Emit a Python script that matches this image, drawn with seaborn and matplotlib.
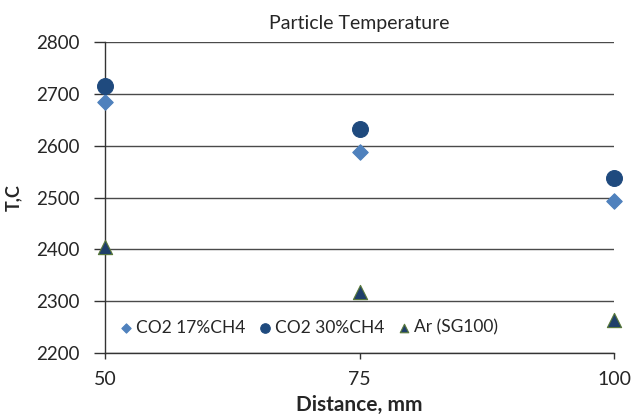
import matplotlib
matplotlib.use("Agg")
import matplotlib.pyplot as plt
import seaborn as sns
import pandas as pd

distance = [50, 75, 100]
co2_17 = [2685, 2588, 2493]
co2_30 = [2715, 2633, 2537]
ar_sg100 = [2405, 2318, 2263]
series_names = ["CO2 17%CH4", "CO2 30%CH4", "Ar (SG100)"]

rows = []
for name, vals in zip(series_names, [co2_17, co2_30, ar_sg100]):
    for d, v in zip(distance, vals):
        rows.append({"Distance": d, "T": v, "Series": name})
df = pd.DataFrame(rows)

sns.set_theme(style="white")
plt.rcParams['font.family'] = ['Lato', 'DejaVu Sans']

fig = plt.figure(figsize=(6.32, 4.15), dpi=100)
ax = fig.add_axes([105 / 632, 1 - 352.5 / 415, (614 - 105) / 632, (352.5 - 42.5) / 415])

palette = {"CO2 17%CH4": "#4F81BD", "CO2 30%CH4": "#1F4A7E", "Ar (SG100)": "#1F3F6A"}
markers = {"CO2 17%CH4": "D", "CO2 30%CH4": "o", "Ar (SG100)": "^"}
sizes = {"CO2 17%CH4": 62, "CO2 30%CH4": 130, "Ar (SG100)": 105}
edges = {"CO2 17%CH4": "#4F81BD", "CO2 30%CH4": "#1F4A7E", "Ar (SG100)": "#5A7A3A"}

for name in series_names:
    sub = df[df["Series"] == name]
    sns.scatterplot(data=sub, x="Distance", y="T", ax=ax, color=palette[name],
                    marker=markers[name], s=sizes[name], edgecolor=edges[name],
                    linewidth=0.8, label=name, zorder=3, clip_on=False)

ax.set_xlim(50, 100)
ax.set_ylim(2200, 2800)
ax.set_xticks(distance)
ax.set_yticks([2200, 2300, 2400, 2500, 2600, 2700, 2800])
ax.yaxis.grid(True, color="#4a4a4a", linewidth=1.0)
ax.set_axisbelow(True)
for s in ["top", "right"]:
    ax.spines[s].set_visible(False)
for s in ["left", "bottom"]:
    ax.spines[s].set_color("#333333")
    ax.spines[s].set_linewidth(1.0)
ax.tick_params(axis="y", length=8, width=1, color="#333333", direction="out",
               labelsize=13.5, left=True, pad=10)
ax.tick_params(axis="x", length=4, width=1, color="#333333", direction="out",
               labelsize=14, bottom=True, pad=9)
ax.set_xlabel("Distance, mm", fontsize=15, fontweight="bold", labelpad=5)
ax.set_ylabel("T,C", fontsize=13, fontweight="bold", labelpad=10)
ax.set_title("Particle Temperature", fontsize=14, pad=10)

leg = ax.legend(loc="lower left", bbox_to_anchor=(0.0, 0.02), ncol=3, frameon=False,
                fontsize=12.5, handletextpad=0.0, columnspacing=0.5, markerscale=0.6,
                handlelength=1.2, borderaxespad=0.2)
fig.savefig("out.png", dpi=100)
